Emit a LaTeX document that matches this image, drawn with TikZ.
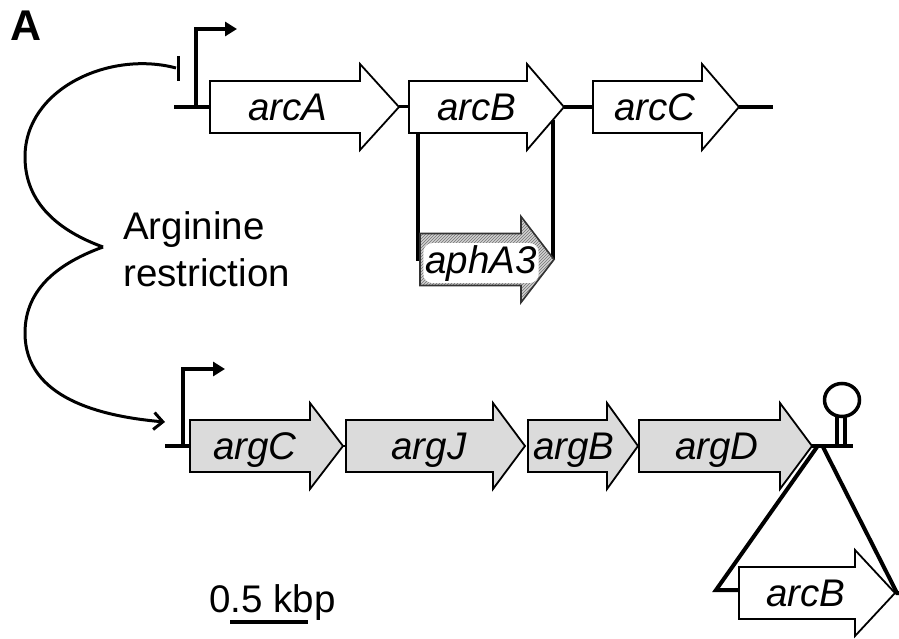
\documentclass[tikz,border=0pt]{standalone}
\usepackage{fontspec}
\setmainfont{Liberation Sans}
\usetikzlibrary{arrows.meta,patterns}
\newcommand{\genebox}[5]{%
  \draw[#5] (#1,{-#4+26}) -- (#2,{-#4+26}) -- (#2,{-#4+43}) -- (#3,-#4)
    -- (#2,{-#4-43}) -- (#2,{-#4-26}) -- (#1,{-#4-26}) -- cycle;}
\tikzset{
  gene/.style={draw=black, line width=1.8pt, fill=white, line join=miter},
  argfill/.style={draw=black, line width=1.8pt, fill=black!14, line join=miter},
  hatch/.style={draw=black!80, line width=1.6pt, pattern=north east lines, pattern color=black!55},
  dna/.style={line width=4.5pt},
  thinlink/.style={line width=3pt},
  prom/.style={line width=4pt, -{Triangle[length=12pt,width=14pt]}},
  glabel/.style={font=\fontsize{38.5}{44}\selectfont\itshape, anchor=base, inner sep=0pt},
  plain/.style={font=\fontsize{38.5}{44}\selectfont, anchor=base west, inner sep=0pt},
}
\begin{document}
\begin{tikzpicture}[x=1pt,y=1pt]
\useasboundingbox (0,0) rectangle (899,-639);
\node[font=\fontsize{43}{48}\selectfont\bfseries, anchor=base west, inner sep=0pt] (panel) at (10,-41) {A};

% ---------- top operon ----------
\coordinate (t0) at (174,-107);
\coordinate (tA) at (210,-107);
\coordinate (tAe) at (399,-107);
\coordinate (tB) at (409,-107);
\coordinate (tBe) at (564,-107);
\coordinate (tC) at (593,-107);
\coordinate (tCe) at (739,-107);
\coordinate (tend) at (773,-107);
\draw[dna] (t0) -- (tA);
\draw[thinlink] (tAe) -- (tB);
\draw[dna] (tBe) -- (tC);
\draw[dna] (tCe) -- (tend);
\coordinate (p1) at (196,-107);
\coordinate (p1t) at (196,-29);
\coordinate (p1h) at (237,-29);
\draw[prom] (p1) -- (p1t) -- (p1h);
\coordinate (tb1) at (178,-56);
\coordinate (tb2) at (178,-81);
\draw[line width=3pt] (tb1) -- (tb2);

% insertion lines to aphA3
\coordinate (i1) at (418,-132);
\coordinate (i1b) at (418,-261);
\coordinate (i2) at (553,-120);
\coordinate (i2b) at (553,-260);
\draw[line width=4.5pt] (i1) -- (i1b);
\draw[line width=3.5pt] (i2) -- (i2b);

\genebox{210}{360}{399}{107}{gene}
\genebox{409}{527}{564}{107}{gene}
\genebox{593}{702}{739}{107}{gene}
\genebox{420}{521}{554}{259.5}{fill=black!18}
\genebox{420}{521}{554}{259.5}{hatch}
\node[glabel] (arcA) at (288,-121) {arcA};
\node[glabel] (arcB) at (477,-121) {arcB};
\node[glabel] (arcC) at (655,-121) {arcC};
\node[glabel, fill=white, rounded corners=9pt, inner sep=2pt] (aphA3) at (481,-273) {aphA3};

% ---------- regulation curve ----------
\node[plain] (arg1) at (123,-239) {Arginine};
\node[plain] (arg2) at (123,-286) {restriction};
\coordinate (cstart) at (176,-68);
\coordinate (cl1) at (25,-157);
\coordinate (cusp) at (103,-247);
\coordinate (cl2) at (25,-333);
\coordinate (cend) at (165,-422);
\draw[line width=3pt] (cstart) to[out=165,in=90] (cl1) to[out=-90,in=160] (cusp);
\draw[line width=3pt, -{Straight Barb[length=9pt,width=17pt,line width=3pt]}]
  (cusp) to[out=200,in=90] (cl2) to[out=-90,in=175] (cend);

% ---------- bottom operon ----------
\coordinate (b0) at (165,-446);
\coordinate (bC) at (190,-446);
\coordinate (bCe) at (343,-446);
\coordinate (bJ) at (346,-446);
\coordinate (bDe) at (812,-446);
\coordinate (bend) at (853,-446);
\draw[dna] (b0) -- (bC);
\draw[line width=2.5pt] (bCe) -- (bJ);
\draw[dna] (bDe) -- (bend);
\coordinate (p2) at (183,-446);
\coordinate (p2t) at (183,-369);
\coordinate (p2h) at (225,-369);
\draw[prom] (p2) -- (p2t) -- (p2h);

% terminator hairpin
\coordinate (s1) at (837,-446);
\coordinate (s1t) at (837,-416);
\coordinate (s2) at (845,-446);
\coordinate (s2t) at (845,-416);
\draw[line width=3.5pt] (s1) -- (s1t);
\draw[line width=3.5pt] (s2) -- (s2t);
\draw[line width=3.5pt] (842,-400) ellipse [x radius=17.5, y radius=16.5];

% insertion triangle
\coordinate (ap1) at (817,-447);
\coordinate (ap2) at (823,-447);
\coordinate (tl) at (716,-590);
\coordinate (tlr) at (740,-590);
\coordinate (tr) at (897,-593);
\coordinate (tre) at (899,-593);
\draw[line width=4pt, line join=miter] (ap1) -- (tl) -- (tlr);
\draw[line width=4pt] (ap2) -- (tr) -- (tre);

\genebox{190}{310}{343}{446}{argfill}
\genebox{346}{493}{525}{446}{argfill}
\genebox{528}{607}{638}{446}{argfill}
\genebox{639}{780}{812}{446}{argfill}
\genebox{739}{855}{895}{593}{gene}
\node[glabel] (argC) at (255,-459) {argC};
\node[glabel] (argJ) at (429,-459) {argJ};
\node[glabel] (argB) at (574,-459) {argB};
\node[glabel] (argD) at (717,-459) {argD};
\node[glabel] (arcB2) at (806,-606) {arcB};

% ---------- scale bar ----------
\node[plain] (scale) at (209,-612) {0.5 kbp};
\coordinate (sb1) at (230,-622);
\coordinate (sb2) at (308,-622);
\draw[line width=4.5pt] (sb1) -- (sb2);
\end{tikzpicture}
\end{document}
